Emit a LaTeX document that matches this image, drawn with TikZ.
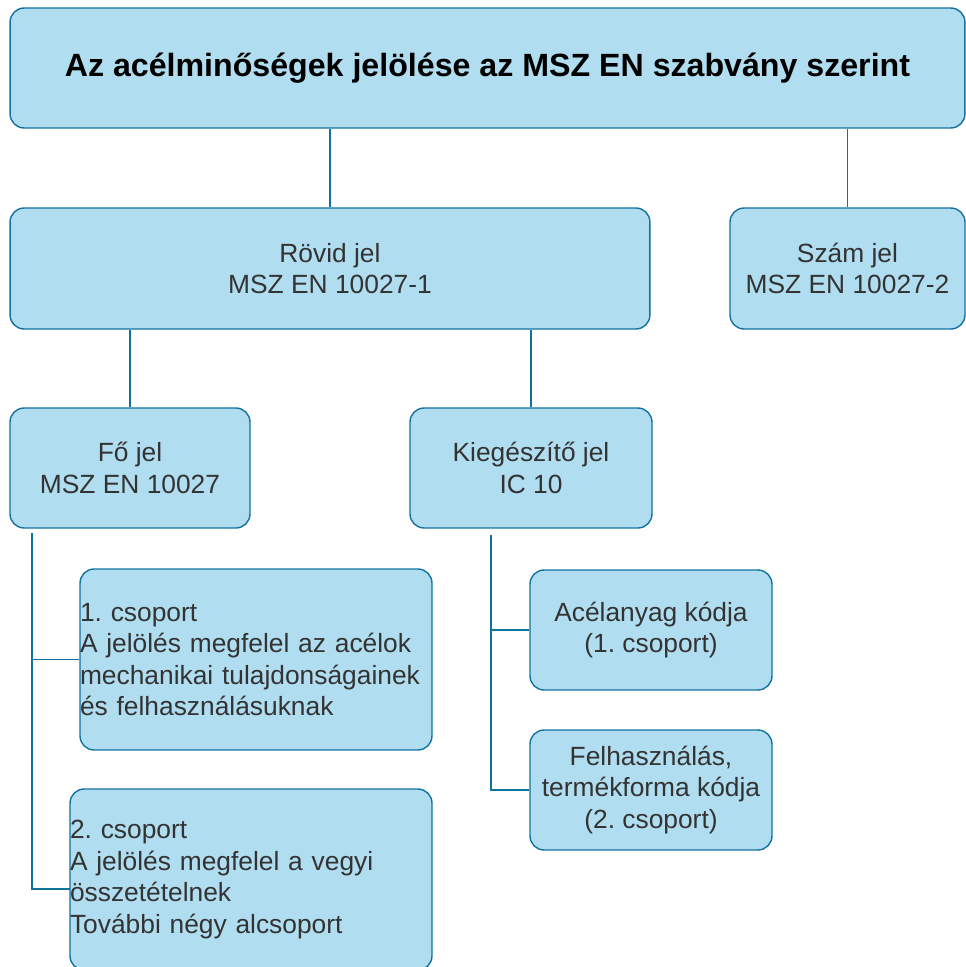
\documentclass[tikz,border=0pt]{standalone}
\usepackage{fontspec}
\setmainfont{Liberation Sans}
\definecolor{boxfill}{HTML}{B1DDF0}
\definecolor{boxline}{HTML}{10739E}
\definecolor{txtgray}{HTML}{333333}

\begin{document}
\frenchspacing
\begin{tikzpicture}[
    x=0.02cm, y=-0.02cm,
    every node/.style={text=txtgray},
    box/.style={rounded corners=8pt, draw=boxline, fill=boxfill, line width=0.8pt,
      font=\fontsize{15}{18}\selectfont, align=center, inner sep=2pt},
    titlebox/.style={box, font=\fontsize{18.3}{22}\selectfont\bfseries, text=black},
    groupbox/.style={box, align=left, inner xsep=0pt, minimum height=3.62cm},
    link/.style={draw=boxline, line width=0.8pt},
  ]

  % Page
  \useasboundingbox (0,0) rectangle (966,967);

  % Top level
  \node[titlebox, minimum width=19.1cm, minimum height=2.4cm] (title) at (487.5,68)
    {Az acélminőségek jelölése az MSZ EN szabvány szerint};

  % Second level
  \node[box, minimum width=12.8cm, minimum height=2.42cm] (rovid) at (330,268.5)
    {Rövid jel\\MSZ EN 10027-1};
  \node[box, minimum width=4.7cm, minimum height=2.42cm] (szam) at (847.5,268.5)
    {Szám jel\\MSZ EN 10027-2};

  % Third level
  \node[box, minimum width=4.8cm, minimum height=2.4cm] (fo) at (130,468)
    {Fő jel\\MSZ EN 10027};
  \node[box, minimum width=4.84cm, minimum height=2.4cm] (kieg) at (531,468)
    {Kiegészítő jel\\IC 10};

  % Groups under Fo jel
  \node[groupbox, text width=7.04cm] (csop1) at (256,659.5)
    {1. csoport\\A jelölés megfelel az acélok\\mechanikai tulajdonságainek\\és felhasználásuknak};
  \node[groupbox, text width=7.24cm] (csop2) at (251,879.5)
    {2. csoport\\A jelölés megfelel a vegyi\\összetételnek\\További négy alcsoport};

  % Codes under Kiegeszito jel
  \node[box, minimum width=4.84cm, minimum height=2.4cm] (acel) at (651,630)
    {Acélanyag kódja\\(1. csoport)};
  \node[box, minimum width=4.84cm, minimum height=2.4cm] (felh) at (651,790)
    {Felhasználás,\\termékforma kódja\\(2. csoport)};

  % Connectors
  \draw[link] (title.south -| rovid) -- (rovid.north);
  \draw[link] (title.south -| szam) -- (szam.north);
  \draw[link] (rovid.south -| fo) -- (fo.north);
  \draw[link] (rovid.south -| kieg) -- (kieg.north);

  \coordinate (fotrunk) at (32,533);
  \coordinate (csop2in) at (70,889);
  \coordinate (kiegtrunk) at (491,535);
  \draw[link] (fotrunk) |- (csop1.west);
  \draw[link] (fotrunk) |- (csop2in);
  \draw[link] (kiegtrunk) |- (acel.west);
  \draw[link] (kiegtrunk) |- (felh.west);

\end{tikzpicture}
\end{document}
